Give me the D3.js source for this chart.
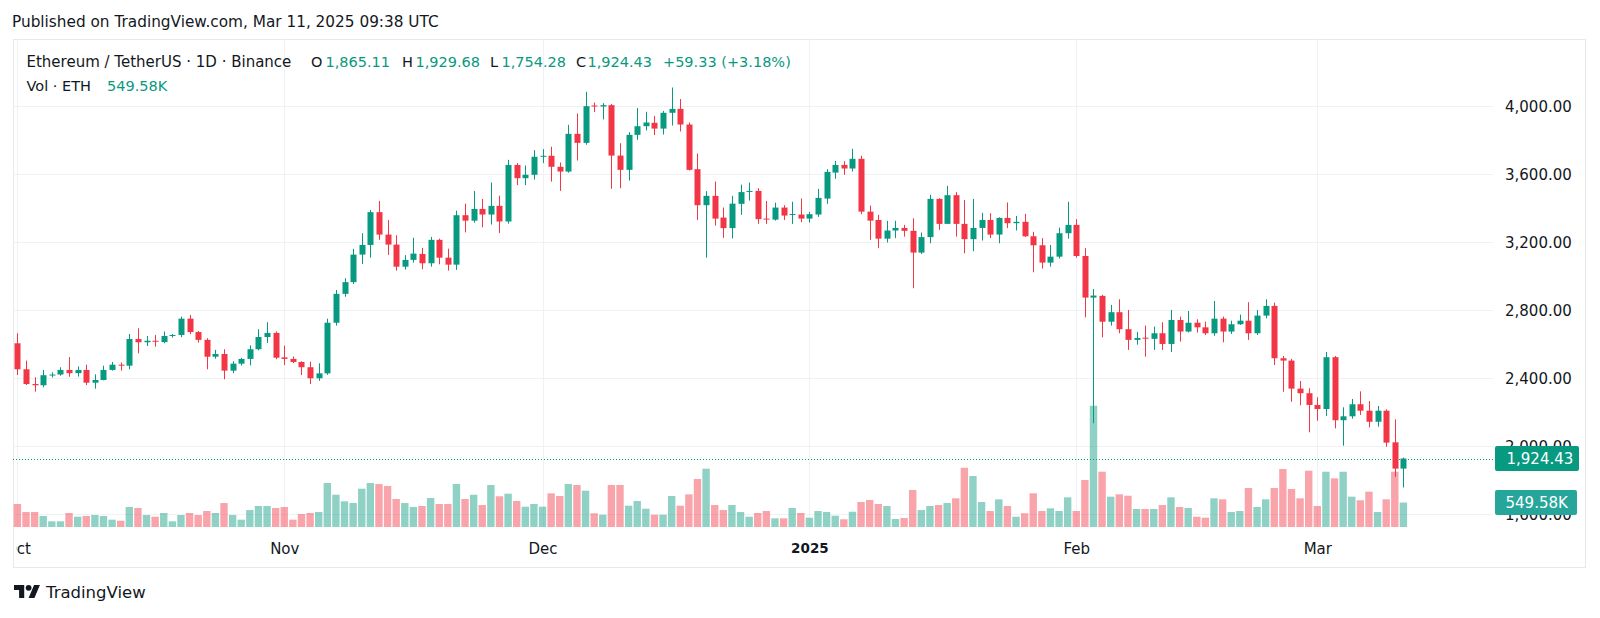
<!DOCTYPE html>
<html><head><meta charset="utf-8">
<script src="https://cdn.jsdelivr.net/npm/d3@7"></script>
<style>
body{margin:0;background:#fff}
svg{display:block}
text{font-family:"DejaVu Sans",sans-serif}
</style>
</head><body>
<svg id="c" width="1600" height="618"></svg>
<script>
// ---------- DATA (ETH/USDT, 1D, Binance) ----------
const firstDay = "2024-10-01";
const lastDay  = "2025-03-11";

const open = [
2603,2450,2363,2356,2415,2419,2446,2427,2446,2371,
2387,2446,2477,2471,2628,2609,2618,2610,2646,2652,
2748,2669,2623,2524,2540,2442,2483,2511,2568,2640,
2664,
2520,2511,2493,2462,2397,2426,2724,2894,2963,3125,
3182,3375,3243,3184,3054,3094,3129,3074,3212,3107,
3066,3357,3325,3394,3361,3412,3320,3653,3575,3595,
3701,3707,3642,3614,3836,3783,4003,3997,4005,3708,
3624,3830,3881,3901,3867,3960,3983,3891,3628,3416,
3471,3343,3281,3424,3494,3500,3337,3331,3402,3359,
3361,
3337,3361,3455,3608,3653,3632,3689,3378,3329,3219,
3267,3282,3265,3137,3228,3453,3306,3475,3306,3216,
3282,3329,3243,3341,3310,3318,3233,3180,3078,3113,
3251,
3300,3117,2872,2882,2730,2786,2686,2623,2636,2629,
2662,2599,2740,2672,2724,2697,2662,2748,2672,2715,
2736,2662,2766,2823,2515,2501,2336,2309,
2240,2216,2521,2150,2173,2244,2206,2141,2206,2020,1865.11];

const high = [
2662,2501,2403,2446,2432,2462,2522,2467,2477,2420,
2471,2493,2490,2658,2691,2646,2652,2672,2657,2760,
2770,2675,2633,2564,2568,2497,2517,2591,2686,2727,
2672,
2589,2525,2497,2495,2485,2748,2917,2986,3159,3251,
3388,3441,3329,3239,3122,3224,3165,3229,3219,3160,
3384,3425,3500,3453,3549,3472,3683,3664,3650,3740,
3746,3760,3667,3889,3956,4084,4020,4017,4012,3781,
3846,3988,3966,3942,3971,4109,4041,3903,3720,3499,
3555,3402,3471,3537,3549,3516,3441,3431,3416,3436,
3455,
3377,3512,3628,3677,3675,3748,3707,3414,3359,3324,
3324,3300,3339,3255,3477,3457,3530,3493,3447,3453,
3371,3369,3345,3432,3353,3365,3259,3222,3182,3284,
3436,
3334,3163,2923,2888,2829,2862,2799,2670,2707,2701,
2727,2799,2760,2793,2744,2730,2852,2760,2736,2772,
2845,2799,2862,2842,2528,2511,2381,2338,
2285,2552,2528,2226,2275,2320,2263,2234,2214,2155,1929.68];

const low = [
2416,2357,2318,2344,2402,2412,2406,2407,2357,2336,
2385,2442,2442,2450,2544,2587,2583,2603,2637,2639,
2657,2607,2450,2512,2391,2427,2472,2473,2562,2605,
2509,
2475,2487,2416,2363,2382,2417,2707,2877,2952,3070,
3107,3212,3123,3031,3037,3078,3039,3054,3068,3031,
3035,3256,3313,3286,3302,3252,3307,3534,3534,3567,
3664,3555,3500,3607,3679,3772,3965,3921,3512,3516,
3561,3801,3856,3829,3832,3885,3850,3620,3329,3107,
3296,3224,3220,3359,3443,3306,3306,3325,3329,3306,
3316,
3314,3347,3424,3571,3595,3614,3363,3212,3163,3196,
3222,3231,2927,3129,3192,3271,3306,3231,3133,3145,
3208,3223,3192,3281,3267,3228,3021,3043,3054,3102,
3219,
3107,2756,2132,2638,2707,2662,2564,2595,2524,2564,
2564,2552,2613,2667,2666,2652,2647,2609,2658,2711,
2623,2652,2750,2475,2318,2259,2238,2079,
2147,2175,2102,2000,2159,2181,2108,2112,1994,1817,1754.28];

const close = [
2450,2363,2356,2415,2419,2446,2427,2446,2371,2387,
2446,2477,2471,2628,2609,2618,2612,2646,2652,2748,
2669,2623,2524,2540,2442,2483,2511,2568,2640,2664,
2518,
2511,2493,2462,2397,2426,2724,2894,2963,3125,3182,
3375,3243,3184,3054,3094,3131,3074,3212,3107,3066,
3357,3325,3394,3361,3412,3320,3653,3575,3595,3701,
3707,3642,3614,3836,3783,3999,3997,4005,3708,3624,
3830,3881,3903,3867,3960,3983,3891,3624,3416,3471,
3337,3281,3425,3493,3500,3334,3331,3402,3355,3364,
3337,
3363,3459,3612,3653,3632,3689,3378,3325,3219,3267,
3282,3265,3137,3228,3453,3306,3475,3306,3216,3282,
3329,3243,3341,3310,3318,3233,3180,3078,3113,3251,
3300,
3117,2872,2884,2730,2786,2686,2623,2634,2630,2662,
2599,2740,2672,2724,2697,2662,2748,2672,2715,2736,
2662,2766,2823,2515,2501,2336,2309,2240,
2216,2521,2150,2173,2244,2206,2141,2206,2018,1865,1924.43];

// volume in thousands of ETH
const volume = [
516,336,336,247,128,128,314,231,247,269,
247,164,141,449,426,269,231,314,128,269,
314,269,359,314,538,269,164,381,471,471,
426,
449,164,292,314,336,987,724,576,538,859,
987,964,920,628,538,449,471,650,516,516,
964,628,724,493,942,689,747,583,455,516,
455,756,695,964,942,814,307,276,942,942,
478,583,410,276,276,695,478,733,1077,1308,
493,381,493,336,231,314,359,195,195,426,
314,
209,359,336,253,173,343,561,606,516,471,
179,202,830,381,471,493,538,644,1330,1144,
561,359,621,471,231,307,756,359,419,359,
666,
359,1054,2721,1240,680,733,702,404,404,404,
493,666,449,426,231,209,644,621,336,359,
875,449,621,875,1301,852,644,1263,
471,1240,1092,1240,680,599,792,336,621,1240,549.58];

const priceTicks = [1600, 2000, 2400, 2800, 3200, 3600, 4000];
const timeTicks = ["2024-10-01","2024-11-01","2024-12-01","2025-01-01","2025-02-01","2025-03-01"];
const monthNames = ["Jan","Feb","Mar","Apr","May","Jun","Jul","Aug","Sep","Oct","Nov","Dec"];

const titleText = "Published on TradingView.com, Mar 11, 2025 09:38 UTC";
const symbolText = "Ethereum / TetherUS · 1D · Binance";
const volText = "Vol · ETH";
const lastVolText = "549.58K";
const changeText = "+59.33 (+3.18%)";

// ---------- DRAW ----------
const UP = "#089981", DOWN = "#F23645";
const svg = d3.select("#c");
const parse = d3.utcParse("%Y-%m-%d");
const dates = d3.utcDay.range(parse(firstDay), d3.utcDay.offset(parse(lastDay), 1));
const bars = dates.map((d, i) => ({d, o: open[i], h: high[i], l: low[i], c: close[i], v: volume[i]}));

const frame = {l: 13, t: 39, r: 1585, b: 567};
const plotR = 1493, plotB = 527;

const x = d3.scaleUtc().domain([parse(firstDay), parse(lastDay)]).range([17.4, 1403.4]);
const y = d3.scaleLinear().domain([2000, 4000]).range([445.7, 106]);
const yv = d3.scaleLinear().domain([0, d3.max(volume)]).range([plotB, 405.7]);

const defs = svg.append("defs");
defs.append("clipPath").attr("id", "plot").append("rect")
  .attr("x", frame.l).attr("y", frame.t).attr("width", plotR - frame.l).attr("height", plotB - frame.t);
defs.append("clipPath").attr("id", "taxis").append("rect")
  .attr("x", 16).attr("y", plotB).attr("width", plotR - 16).attr("height", frame.b - plotB);

svg.append("rect").attr("width", 1600).attr("height", 618).attr("fill", "#fff");

// frame
svg.append("rect").attr("x", frame.l + 0.5).attr("y", frame.t + 0.5)
  .attr("width", frame.r - frame.l).attr("height", frame.b - frame.t)
  .attr("fill", "none").attr("stroke", "#e6e8ec");

const plot = svg.append("g").attr("clip-path", "url(#plot)");

// grid
plot.append("g").selectAll("line").data(priceTicks).join("line")
  .attr("x1", frame.l).attr("x2", plotR)
  .attr("y1", d => Math.round(y(d)) + 0.5).attr("y2", d => Math.round(y(d)) + 0.5)
  .attr("stroke", "#f0f1f4");
plot.append("g").selectAll("line").data(timeTicks.map(parse)).join("line")
  .attr("x1", d => Math.round(x(d)) + 0.5).attr("x2", d => Math.round(x(d)) + 0.5)
  .attr("y1", frame.t).attr("y2", plotB)
  .attr("stroke", "#f0f1f4");

// volume
plot.append("g").selectAll("rect").data(bars).join("rect")
  .attr("x", b => x(b.d) - 3.7).attr("width", 7.4)
  .attr("y", b => yv(b.v)).attr("height", b => plotB - yv(b.v))
  .attr("fill", b => b.c >= b.o ? UP : DOWN).attr("fill-opacity", 0.45);

// last price dotted line
const lastBar = bars[bars.length - 1];
plot.append("line")
  .attr("x1", frame.l).attr("x2", plotR)
  .attr("y1", Math.round(y(lastBar.c)) + 0.5).attr("y2", Math.round(y(lastBar.c)) + 0.5)
  .attr("stroke", UP).attr("stroke-dasharray", "1,2");

// candles
const cg = plot.append("g");
cg.selectAll("line").data(bars).join("line")
  .attr("x1", b => Math.round(x(b.d)) + 0.5).attr("x2", b => Math.round(x(b.d)) + 0.5)
  .attr("y1", b => y(b.h)).attr("y2", b => y(b.l))
  .attr("stroke", b => b.c >= b.o ? UP : DOWN).attr("stroke-width", 1);
cg.selectAll("rect").data(bars).join("rect")
  .attr("x", b => Math.round(x(b.d)) - 2.5).attr("width", 6)
  .attr("y", b => y(Math.max(b.o, b.c)))
  .attr("height", b => Math.max(1, Math.abs(y(b.o) - y(b.c))))
  .attr("fill", b => b.c >= b.o ? UP : DOWN);

// price axis
const pa = svg.append("g").attr("transform", `translate(1505,0)`)
  .call(d3.axisRight(y).tickValues(priceTicks).tickFormat(d3.format(",.2f")).tickSize(0).tickPadding(0));
pa.select(".domain").remove();
pa.selectAll("text").attr("font-family", "DejaVu Sans").attr("font-size", 15)
  .attr("fill", "#131722").attr("dy", "0.37em");

// time axis
const ta = svg.append("g").attr("clip-path", "url(#taxis)").append("g")
  .attr("transform", `translate(0,${plotB})`)
  .call(d3.axisBottom(x).tickValues(timeTicks.map(parse)).tickSize(0).tickPadding(16.3)
    .tickFormat(d => d.getUTCMonth() === 0 ? String(d.getUTCFullYear()) : monthNames[d.getUTCMonth()]));
ta.select(".domain").remove();
ta.selectAll("text").attr("font-family", "DejaVu Sans").attr("font-size", 15).attr("fill", "#131722");
ta.selectAll(".tick").filter(d => d.getUTCMonth() === 0).select("text")
  .attr("font-weight", "bold").attr("font-size", 13.5);

// last price label
const ly = y(lastBar.c);
svg.append("rect").attr("x", 1495).attr("y", ly - 12.5).attr("width", 84).attr("height", 25)
  .attr("rx", 2).attr("fill", UP);
svg.append("text").attr("x", 1506.5).attr("y", ly + 5.5).attr("font-size", 15).attr("fill", "#fff")
  .text(d3.format(",.2f")(lastBar.c));
const vy = yv(lastBar.v);
svg.append("rect").attr("x", 1495).attr("y", vy - 12.5).attr("width", 82).attr("height", 25)
  .attr("rx", 2).attr("fill", "#26a69a");
svg.append("text").attr("x", 1505.5).attr("y", vy + 5.5).attr("font-size", 15).attr("fill", "#fff")
  .text(lastVolText);

// title
svg.append("text").attr("x", 12).attr("y", 26.7).attr("font-size", 15.3).attr("fill", "#131722").text(titleText);

// legend
const lg = svg.append("g").attr("font-size", 14.5);
lg.append("text").attr("x", 26.5).attr("y", 66.5).attr("font-size", 15).attr("fill", "#131722").text(symbolText);
const ohlc = [["O", lastBar.o, 311, 325.5], ["H", lastBar.h, 402, 415.5], ["L", lastBar.l, 490, 501.5], ["C", lastBar.c, 576, 587.5]];
ohlc.forEach(([k, v, kx, vx]) => {
  lg.append("text").attr("x", kx).attr("y", 66.5).attr("fill", "#131722").text(k);
  lg.append("text").attr("x", vx).attr("y", 66.5).attr("fill", UP).text(d3.format(",.2f")(v));
});
lg.append("text").attr("x", 663).attr("y", 66.5).attr("fill", UP).text(changeText);
lg.append("text").attr("x", 26.5).attr("y", 90.5).attr("fill", "#131722").text(volText);
lg.append("text").attr("x", 107).attr("y", 90.5).attr("fill", UP).text(lastVolText);

// TradingView logo
const logo = svg.append("g").attr("transform", "translate(14,582) scale(0.73)").attr("fill", "#131722");
logo.append("path").attr("d", "M14 22H7V11H0V4h14v18zM28 22h-8l7.5-18h8L28 22z");
logo.append("circle").attr("cx", 20).attr("cy", 8).attr("r", 4);
svg.append("text").attr("x", 46).attr("y", 597.5).attr("font-size", 16.5).attr("fill", "#131722").text("TradingView");
</script>
</body></html>
